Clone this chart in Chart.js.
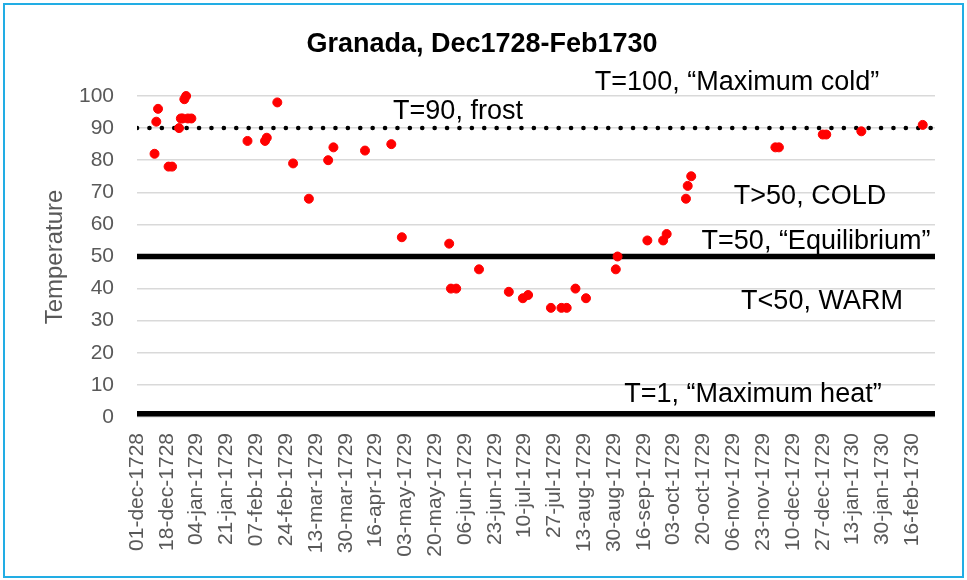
<!DOCTYPE html>
<html>
<head>
<meta charset="utf-8">
<title>Granada, Dec1728-Feb1730</title>
<script src="https://cdn.jsdelivr.net/npm/chart.js@4"></script>
<style>
  body { margin: 0; background: #ffffff; }
  #wrap { position: relative; width: 967px; height: 580px; }
  #frame {
    position: absolute; left: 3px; top: 3px; width: 957px; height: 571px;
    border: 2px solid #22ade4; pointer-events: none;
  }
</style>
</head>
<body>
<div id="wrap">
  <canvas id="chart" width="967" height="580"></canvas>
  <div id="frame"></div>
</div>
<script>
// ===============================
// Data
// ===============================
const obsDates = [
  "1728-12-11", "1728-12-12", "1728-12-13", "1728-12-19", "1728-12-21",
  "1728-12-25", "1728-12-26", "1728-12-27", "1728-12-28", "1728-12-29",
  "1728-12-30", "1729-01-01", "1729-02-02", "1729-02-12", "1729-02-13",
  "1729-02-19", "1729-02-28", "1729-03-09", "1729-03-20", "1729-03-23",
  "1729-04-10", "1729-04-25", "1729-05-01", "1729-05-28", "1729-05-29",
  "1729-06-01", "1729-06-14", "1729-07-01", "1729-07-09", "1729-07-12",
  "1729-07-25", "1729-07-31", "1729-08-03", "1729-08-08", "1729-08-14",
  "1729-08-31", "1729-09-01", "1729-09-18", "1729-09-27", "1729-09-29",
  "1729-10-10", "1729-10-11", "1729-10-13", "1729-11-30", "1729-12-02",
  "1729-12-27", "1729-12-29", "1730-01-18", "1730-02-22"
];
const obsTemps = [
  82, 92, 96, 78, 78,
  90, 93, 93, 99, 100,
  93, 93, 86, 86, 87,
  98, 79, 68, 80, 84,
  83, 85, 56, 54, 40,
  40, 46, 39, 37, 38,
  34, 34, 34, 40, 37,
  46, 50, 55, 55, 57,
  68, 72, 75, 84, 84,
  88, 88, 89, 91
];

// reference levels drawn as lines
const frostLevel = 90;
const equilibriumLevel = 50;
const heatLevel = 1;

const xTickLabels = [
  "01-dec-1728", "18-dec-1728", "04-jan-1729", "21-jan-1729", "07-feb-1729",
  "24-feb-1729", "13-mar-1729", "30-mar-1729", "16-apr-1729", "03-may-1729",
  "20-may-1729", "06-jun-1729", "23-jun-1729", "10-jul-1729", "27-jul-1729",
  "13-aug-1729", "30-aug-1729", "16-sep-1729", "03-oct-1729", "20-oct-1729",
  "06-nov-1729", "23-nov-1729", "10-dec-1729", "27-dec-1729", "13-jan-1730",
  "30-jan-1730", "16-feb-1730"
];
const yTicks = [0, 10, 20, 30, 40, 50, 60, 70, 80, 90, 100];

const annotations = [
  { text: "T=100, \u201cMaximum cold\u201d", x: 737, y: 83 },
  { text: "T=90, frost", x: 458, y: 112 },
  { text: "T>50, COLD", x: 810, y: 197 },
  { text: "T=50, \u201cEquilibrium\u201d", x: 816, y: 242 },
  { text: "T<50, WARM", x: 822, y: 302 },
  { text: "T=1, \u201cMaximum heat\u201d", x: 753, y: 395 }
];

// ===============================
// Date helpers (days since 01-dec-1728)
// ===============================
const MONTHS = ["jan", "feb", "mar", "apr", "may", "jun", "jul", "aug", "sep", "oct", "nov", "dec"];
const DAY_MS = 86400000;
const ORIGIN = Date.UTC(1728, 11, 1);

function isoToDay(s) {
  const [y, m, d] = s.split("-").map(Number);
  return Math.round((Date.UTC(y, m - 1, d) - ORIGIN) / DAY_MS);
}

function labelToDay(s) {
  const [d, mon, y] = s.split("-");
  return Math.round((Date.UTC(+y, MONTHS.indexOf(mon), +d) - ORIGIN) / DAY_MS);
}

const xTickDays = xTickLabels.map(labelToDay);
const X_MIN = 0;
const X_MAX = 455;

function levelLine(level) {
  return [{ x: X_MIN, y: level }, { x: X_MAX, y: level }];
}

// ===============================
// Text plugin (title, axis title, notes)
// ===============================
const FONT = "'Liberation Sans', Arial, sans-serif";

const textPlugin = {
  id: "textNotes",
  afterDraw(chart) {
    const ctx = chart.ctx;
    ctx.save();
    ctx.fillStyle = "#000000";
    ctx.textBaseline = "middle";
    ctx.textAlign = "center";

    ctx.font = "bold 27px " + FONT;
    ctx.fillText("Granada, Dec1728-Feb1730", 482, 45);

    ctx.font = "27px " + FONT;
    annotations.forEach((a) => ctx.fillText(a.text, a.x, a.y));

    ctx.translate(55, 257);
    ctx.rotate(-Math.PI / 2);
    ctx.fillStyle = "#595959";
    ctx.font = "24px " + FONT;
    ctx.fillText("Temperature", 0, 0);
    ctx.restore();
  },
};

// ===============================
// Chart
// ===============================
const ctx = document.getElementById("chart").getContext("2d");

new Chart(ctx, {
  type: "scatter",
  data: {
    datasets: [
      {
        label: "Temperature",
        data: obsDates.map((d, i) => ({ x: isoToDay(d), y: obsTemps[i] })),
        backgroundColor: "#ff0000",
        borderColor: "#ff0000",
        pointRadius: 4.5,
        pointHoverRadius: 4.5,
        clip: false,
      },
      {
        label: "frost",
        data: levelLine(frostLevel),
        showLine: true,
        borderColor: "#000000",
        borderWidth: 4.5,
        borderDash: [0.1, 12.3],
        borderCapStyle: "round",
        pointRadius: 0,
      },
      {
        label: "equilibrium",
        data: levelLine(equilibriumLevel),
        showLine: true,
        borderColor: "#000000",
        borderWidth: 5.5,
        pointRadius: 0,
      },
      {
        label: "heat",
        data: levelLine(heatLevel),
        showLine: true,
        borderColor: "#000000",
        borderWidth: 5.5,
        pointRadius: 0,
      },
    ],
  },
  options: {
    responsive: false,
    animation: false,
    layout: { padding: { left: 0, right: 32, top: 96, bottom: 0 } },
    plugins: {
      legend: { display: false },
      tooltip: { enabled: false },
    },
    scales: {
      x: {
        type: "linear",
        min: X_MIN,
        max: X_MAX,
        afterBuildTicks: (scale) => {
          scale.ticks = xTickDays.map((v) => ({ value: v }));
        },
        afterFit: (scale) => {
          scale.height = 163;
        },
        grid: { display: false, drawTicks: false },
        border: { display: false },
        ticks: {
          autoSkip: false,
          minRotation: 90,
          maxRotation: 90,
          padding: 16,
          color: "#595959",
          font: { family: FONT, size: 21 },
          callback: (value) => xTickLabels[xTickDays.indexOf(value)],
        },
      },
      y: {
        min: 0,
        max: 100,
        afterBuildTicks: (scale) => {
          scale.ticks = yTicks.map((v) => ({ value: v }));
        },
        afterFit: (scale) => {
          scale.width = 137;
        },
        grid: { color: "#d9d9d9", lineWidth: 1.5, drawTicks: false },
        border: { display: false },
        ticks: {
          padding: 23,
          color: "#595959",
          font: { family: FONT, size: 21 },
        },
      },
    },
  },
  plugins: [textPlugin],
});
</script>
</body>
</html>
